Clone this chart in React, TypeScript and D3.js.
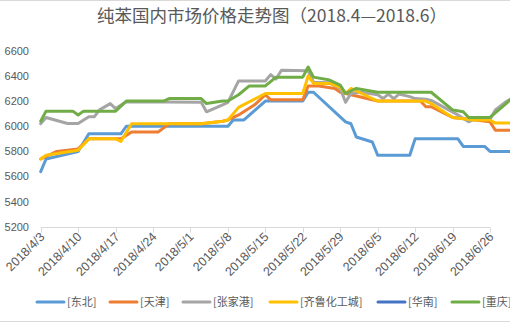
import React from "react";
import * as d3 from "d3";

const title = "纯苯国内市场价格走势图（2018.4—2018.6）";
const xTickLabels = ["2018/4/3","2018/4/10","2018/4/17","2018/4/24","2018/5/1","2018/5/8","2018/5/15","2018/5/22","2018/5/29","2018/6/5","2018/6/12","2018/6/19","2018/6/26"];
const yTicks = [5200,5400,5600,5800,6000,6200,6400,6600];

const dongbei: [string, number][] = [
  ["2018/4/3",5640],["2018/4/4",5740],["2018/4/10",5800],["2018/4/12",5940],["2018/4/18",5940],["2018/4/19",6000],
  ["2018/5/8",6000],["2018/5/9",6050],["2018/5/11",6050],["2018/5/15",6200],["2018/5/22",6200],["2018/5/23",6270],
  ["2018/5/24",6270],["2018/5/30",6035],["2018/5/31",6020],["2018/6/1",5915],["2018/6/4",5875],["2018/6/5",5770],
  ["2018/6/11",5770],["2018/6/12",5900],["2018/6/20",5900],["2018/6/21",5840],["2018/6/25",5840],["2018/6/26",5800],["2018/6/30",5800]
];
const tianjin: [string, number][] = [
  ["2018/4/3",5740],["2018/4/6",5800],["2018/4/10",5820],["2018/4/12",5900],["2018/4/18",5900],["2018/4/20",5955],
  ["2018/4/25",5955],["2018/4/27",6020],["2018/5/3",6020],["2018/5/7",6040],["2018/5/8",6050],["2018/5/10",6090],
  ["2018/5/13",6170],["2018/5/15",6250],["2018/5/16",6210],["2018/5/22",6210],["2018/5/23",6320],["2018/5/25",6320],
  ["2018/5/28",6300],["2018/5/29",6270],["2018/5/31",6250],["2018/6/5",6200],["2018/6/13",6200],["2018/6/14",6155],
  ["2018/6/15",6155],["2018/6/19",6070],["2018/6/22",6055],["2018/6/26",6035],["2018/6/27",5968],["2018/6/30",5968]
];
const zhangjiagang: [string, number][] = [
  ["2018/4/3",6020],["2018/4/4",6070],["2018/4/8",6022],["2018/4/10",6022],["2018/4/12",6075],["2018/4/13",6075],
  ["2018/4/14",6130],["2018/4/16",6180],["2018/4/17",6140],["2018/4/19",6195],["2018/5/3",6190],["2018/5/4",6115],
  ["2018/5/7",6170],["2018/5/8",6190],["2018/5/10",6360],["2018/5/15",6360],["2018/5/16",6410],["2018/5/17",6375],
  ["2018/5/18",6445],["2018/5/23",6440],["2018/5/24",6350],["2018/5/27",6345],["2018/5/29",6300],["2018/5/30",6190],
  ["2018/5/31",6260],["2018/6/2",6270],["2018/6/5",6250],["2018/6/6",6220],["2018/6/7",6255],["2018/6/8",6220],
  ["2018/6/9",6255],["2018/6/11",6235],["2018/6/12",6220],["2018/6/14",6215],["2018/6/15",6205],["2018/6/20",6090],
  ["2018/6/22",6035],["2018/6/23",6055],["2018/6/26",6055],["2018/6/27",6130],["2018/6/29",6195],["2018/6/30",6220]
];
const qilu: [string, number][] = [
  ["2018/4/3",5740],["2018/4/4",5770],["2018/4/10",5810],["2018/4/12",5900],["2018/4/17",5900],["2018/4/18",5880],
  ["2018/4/20",6020],["2018/5/3",6020],["2018/5/7",6040],["2018/5/8",6050],["2018/5/10",6150],["2018/5/15",6260],
  ["2018/5/22",6260],["2018/5/23",6400],["2018/5/24",6340],["2018/5/27",6340],["2018/5/29",6310],["2018/5/30",6260],
  ["2018/5/31",6300],["2018/6/2",6260],["2018/6/5",6200],["2018/6/14",6200],["2018/6/15",6180],["2018/6/19",6070],
  ["2018/6/23",6050],["2018/6/26",6050],["2018/6/27",6025],["2018/6/30",6025]
];
const huanan: [string, number][] = [];
const chongqing: [string, number][] = [
  ["2018/4/3",6040],["2018/4/4",6120],["2018/4/9",6120],["2018/4/10",6090],["2018/4/11",6120],["2018/4/17",6120],
  ["2018/4/19",6200],["2018/4/26",6200],["2018/4/27",6220],["2018/5/3",6220],["2018/5/4",6180],["2018/5/7",6200],
  ["2018/5/8",6200],["2018/5/10",6250],["2018/5/12",6320],["2018/5/15",6320],["2018/5/17",6390],["2018/5/22",6390],
  ["2018/5/23",6470],["2018/5/24",6390],["2018/5/27",6367],["2018/5/29",6327],["2018/5/30",6260],["2018/6/1",6300],
  ["2018/6/5",6270],["2018/6/15",6270],["2018/6/19",6130],["2018/6/21",6115],["2018/6/22",6070],["2018/6/26",6070],
  ["2018/6/29",6180],["2018/6/30",6220]
];

const seriesNames = ["[东北]","[天津]","[张家港]","[齐鲁化工城]","[华南]","[重庆]"];
const seriesData = [dongbei, tianjin, zhangjiagang, qilu, huanan, chongqing];
const colors = ["#5B9BD5","#ED7D31","#A5A5A5","#FFC000","#4472C4","#70AD47"];
const legendX = [37, 110, 183, 270, 378, 452];

const parse = d3.utcParse("%Y/%m/%d");

export default function App() {
  const W = 510, H = 323;
  const x = d3.scaleUtc().domain([parse("2018/4/3")!, parse("2018/6/26")!]).range([40.7, 490]);
  const y = d3.scaleLinear().domain([5200, 6600]).range([227, 50.7]);
  const line = d3.line<[string, number]>()
    .x(d => x(parse(d[0])!))
    .y(d => y(d[1]));
  const axisY = y(5200) + 0.5;
  const font = "'Liberation Sans', 'Noto Sans CJK SC', sans-serif";
  return (
    <svg width={W} height={H} style={{ position: "absolute", left: 0, top: 0, background: "#fff" }} fontFamily={font}>
      <rect x={0} y={0} width={W} height={H} fill="#fff" />
      <line x1={0} x2={W} y1={0.5} y2={0.5} stroke="#d9d9d9" />
      <line x1={0} x2={W} y1={321.5} y2={321.5} stroke="#d9d9d9" />
      <text x={272} y={22} textAnchor="middle" fontSize={17.5} fill="#595959" fontFamily="'Noto Sans CJK SC', sans-serif">{title}</text>
      {yTicks.map(t => (
        <text key={t} x={29} y={y(t)} dy="0.35em" textAnchor="end" fontSize={11} fill="#595959">{t}</text>
      ))}
      <line x1={40.7} x2={490} y1={axisY} y2={axisY} stroke="#d9d9d9" />
      {xTickLabels.map(l => {
        const px = Math.round(x(parse(l)!)) + 0.5;
        return (
          <g key={l}>
            <line x1={px} x2={px} y1={axisY} y2={axisY + 5} stroke="#d9d9d9" />
            <text transform={`translate(${px + 4},${axisY + 10}) rotate(-45)`} textAnchor="end" fontSize={12.5} fill="#595959">{l}</text>
          </g>
        );
      })}
      {seriesData.map((s, i) => s.length ? (
        <path key={i} d={line(s) || ""} fill="none" stroke={colors[i]} strokeWidth={3} strokeLinejoin="round" strokeLinecap="round" />
      ) : null)}
      {seriesNames.map((n, i) => (
        <g key={n}>
          <line x1={legendX[i]} x2={legendX[i] + 27} y1={302} y2={302} stroke={colors[i]} strokeWidth={3} strokeLinecap="round" />
          <text x={legendX[i] + 30} y={302} dy="0.35em" fontSize={11} fill="#595959" fontFamily="'Noto Sans CJK SC', sans-serif">{n}</text>
        </g>
      ))}
    </svg>
  );
}
